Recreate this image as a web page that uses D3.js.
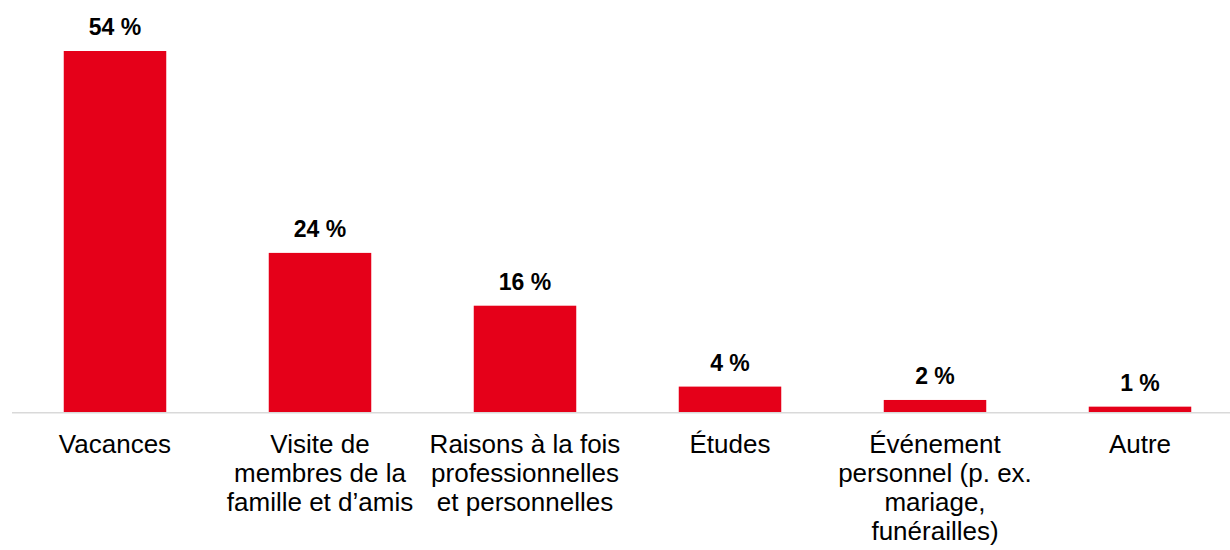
<!DOCTYPE html>
<html>
<head>
<meta charset="utf-8">
<script src="https://cdn.jsdelivr.net/npm/d3@7"></script>
<style>
  html, body { margin: 0; padding: 0; background: #fff; }
  svg { display: block; font-family: "Liberation Sans", Arial, sans-serif; }
</style>
</head>
<body>
<div id="chart"></div>
<script>
// categories (line breaks as in the original labels)
const categories = [
  "Vacances",
  "Visite de\nmembres de la\nfamille et d\u2019amis",
  "Raisons \u00e0 la fois\nprofessionnelles\net personnelles",
  "\u00c9tudes",
  "\u00c9v\u00e9nement\npersonnel (p. ex.\nmariage,\nfun\u00e9railles)",
  "Autre"
];
// share of trips, %
const values = [54, 23.8, 15.9, 3.8, 1.8, 0.8];
// labels printed above bars
const valueLabels = ["54 %", "24 %", "16 %", "4 %", "2 %", "1 %"];

const width = 1230;
const height = 550;
const baseY = 412;

const svg = d3.select("#chart").append("svg")
    .attr("width", width)
    .attr("height", height);

const x = d3.scaleBand()
    .domain(d3.range(categories.length))
    .range([12.5, 1242.5])
    .paddingInner(0.5)
    .paddingOuter(0.25);

const y = d3.scaleLinear()
    .domain([0, 54])
    .range([baseY, 51]);

// bars
svg.append("g")
  .selectAll("rect")
  .data(values)
  .join("rect")
    .attr("x", (d, i) => x(i))
    .attr("y", d => y(d))
    .attr("width", x.bandwidth())
    .attr("height", d => baseY - y(d))
    .attr("fill", "#e50019");

// baseline
svg.append("line")
    .attr("x1", 12)
    .attr("x2", width)
    .attr("y1", baseY + 0.8)
    .attr("y2", baseY + 0.8)
    .attr("stroke", "#d9d9d9")
    .attr("stroke-width", 1.6);

// value labels
svg.append("g")
  .selectAll("text")
  .data(values)
  .join("text")
    .attr("x", (d, i) => x(i) + x.bandwidth() / 2)
    .attr("y", d => y(d) - 16)
    .attr("text-anchor", "middle")
    .attr("font-size", 23)
    .attr("font-weight", "bold")
    .attr("fill", "#000")
    .text((d, i) => valueLabels[i]);

// category labels
const cat = svg.append("g")
  .selectAll("text")
  .data(categories)
  .join("text")
    .attr("x", (d, i) => x(i) + x.bandwidth() / 2)
    .attr("y", 453)
    .attr("text-anchor", "middle")
    .attr("font-size", 26)
    .attr("fill", "#000");

cat.selectAll("tspan")
  .data((d, i) => d.split("\n").map(t => ({t, i})))
  .join("tspan")
    .attr("x", d => x(d.i) + x.bandwidth() / 2)
    .attr("dy", (d, j) => j === 0 ? 0 : 29)
    .text(d => d.t);
</script>
</body>
</html>
